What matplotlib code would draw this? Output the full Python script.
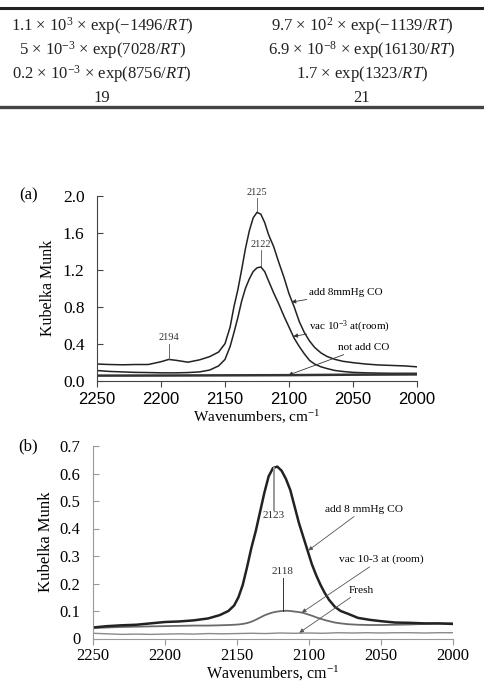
import matplotlib
matplotlib.use("Agg")
import matplotlib.pyplot as plt
from matplotlib.lines import Line2D

plt.rcParams['font.family'] = ['Liberation Serif', 'DejaVu Serif']
plt.rcParams['mathtext.fontset'] = 'custom'
plt.rcParams['mathtext.rm'] = 'Liberation Serif'
plt.rcParams['mathtext.it'] = 'Liberation Serif:italic'

# --- table fragment at the top of the page ---
table_left = [r'1.1 $\times$ 10$^{3}$ $\times$ exp($-$1496/$RT$)',
              r'5 $\times$ 10$^{-3}$ $\times$ exp(7028/$RT$)',
              r'0.2 $\times$ 10$^{-3}$ $\times$ exp(8756/$RT$)',
              '19']
table_right = [r'9.7 $\times$ 10$^{2}$ $\times$ exp($-$1139/$RT$)',
               r'6.9 $\times$ 10$^{-8}$ $\times$ exp(16130/$RT$)',
               r'1.7 $\times$ exp(1323/$RT$)',
               '21']

# --- panel (a) ---
wn_a = [2250, 2240, 2230, 2220, 2210, 2200, 2194, 2188, 2179, 2170, 2162, 2155,
        2150, 2146, 2143, 2140, 2137, 2134, 2131, 2128, 2125, 2122, 2119, 2116,
        2112, 2108, 2104, 2100, 2096, 2092, 2088, 2084, 2080, 2075, 2070, 2064,
        2058, 2050, 2040, 2030, 2020, 2010, 2000]
co_8mm_a = [0.18, 0.175, 0.172, 0.175, 0.175, 0.205, 0.23, 0.22, 0.20, 0.225, 0.26, 0.31,
            0.40, 0.58, 0.80, 0.98, 1.20, 1.43, 1.62, 1.76, 1.82, 1.80, 1.71, 1.58,
            1.45, 1.28, 1.12, 0.94, 0.80, 0.64, 0.52, 0.43, 0.36, 0.30, 0.26, 0.23,
            0.21, 0.195, 0.18, 0.17, 0.165, 0.16, 0.15]
vac_a = [0.11, 0.10, 0.095, 0.09, 0.088, 0.085, 0.085, 0.085, 0.088, 0.095, 0.115, 0.16,
         0.23, 0.37, 0.52, 0.68, 0.86, 1.00, 1.10, 1.18, 1.22, 1.23, 1.18, 1.08,
         0.95, 0.83, 0.70, 0.58, 0.46, 0.37, 0.29, 0.22, 0.18, 0.15, 0.13, 0.11,
         0.10, 0.09, 0.085, 0.082, 0.08, 0.08, 0.08]
wn_noco = [2250, 2200, 2150, 2100, 2050, 2000]
noco_a = [0.055, 0.056, 0.058, 0.060, 0.065, 0.068]

# --- panel (b) ---
wn_b = [2250, 2240, 2230, 2220, 2210, 2200, 2190, 2180, 2170, 2162, 2156, 2152,
        2149, 2146, 2143, 2140, 2137, 2134, 2131, 2128, 2125, 2122, 2119, 2116,
        2113, 2110, 2107, 2104, 2101, 2098, 2095, 2092, 2089, 2086, 2082, 2078,
        2073, 2066, 2058, 2050, 2040, 2030, 2020, 2010, 2000]
co_8mm_b = [0.040, 0.045, 0.048, 0.050, 0.055, 0.060, 0.062, 0.066, 0.073, 0.085, 0.10, 0.12,
            0.15, 0.195, 0.26, 0.33, 0.39, 0.46, 0.53, 0.59, 0.62, 0.625, 0.61, 0.58,
            0.54, 0.48, 0.42, 0.37, 0.32, 0.27, 0.23, 0.195, 0.165, 0.14, 0.115, 0.10,
            0.09, 0.075, 0.068, 0.063, 0.058, 0.057, 0.055, 0.055, 0.053]
vac_b = [0.038, 0.040, 0.042, 0.043, 0.044, 0.045, 0.046, 0.047, 0.047, 0.048, 0.049, 0.050,
         0.051, 0.053, 0.056, 0.061, 0.068, 0.076, 0.084, 0.090, 0.095, 0.098, 0.100, 0.101,
         0.100, 0.098, 0.096, 0.093, 0.088, 0.083, 0.077, 0.072, 0.067, 0.063, 0.058, 0.055,
         0.052, 0.050, 0.049, 0.049, 0.050, 0.051, 0.053, 0.054, 0.055]
wn_fresh = [2250, 2240, 2230, 2220, 2210, 2200, 2190, 2180, 2170, 2160, 2150, 2140, 2130,
            2120, 2110, 2100, 2090, 2080, 2070, 2060, 2050, 2040, 2030, 2020, 2010, 2000]
fresh_b = [0.019, 0.017, 0.015, 0.016, 0.015, 0.016, 0.017, 0.016, 0.018, 0.017, 0.018, 0.019, 0.018,
           0.020, 0.019, 0.020, 0.019, 0.021, 0.020, 0.021, 0.020, 0.021, 0.021, 0.020, 0.021, 0.021]

W, H = 484, 690
fig = plt.figure(figsize=(W / 100, H / 100), dpi=100)

def fx(px):
    return px / W

def fy(py):
    return 1 - py / H

# table rules and rows
fig.add_artist(Line2D([0, 1], [fy(8), fy(8)], transform=fig.transFigure, lw=2.2, color='#222222'))
fig.add_artist(Line2D([0, 1], [fy(107), fy(107)], transform=fig.transFigure, lw=2.4, color='#444444'))
for i, (lt, rt) in enumerate(zip(table_left, table_right)):
    y = fy(26.5 + i * 23.7)
    fig.text(fx(102), y, lt, ha='center', va='center', fontsize=12, color='#222222')
    fig.text(fx(362), y, rt, ha='center', va='center', fontsize=12, color='#222222')

arrow = dict(arrowstyle='-|>', mutation_scale=6, lw=0.6, color='#333333', shrinkA=0, shrinkB=0)

# ---------- panel (a) ----------
ax1 = fig.add_axes([fx(97), fy(380.7), fx(320), 185 / H])
ax1.plot(wn_a, co_8mm_a, color='#222222', lw=1.1)
ax1.plot(wn_a, vac_a, color='#222222', lw=1.1)
ax1.plot(wn_noco, noco_a, color='#333333', lw=1.8)
ax1.set_xlim(2250, 2000)
ax1.set_ylim(0, 2.0)
ax1.set_xticks([2250, 2200, 2150, 2100, 2050, 2000])
ax1.set_xticklabels(['2250', '2200', '2150', '2100', '2050', '2000'],
                    family='Liberation Sans', fontsize=12)
ax1.set_yticks([0, 0.4, 0.8, 1.2, 1.6, 2.0])
ax1.set_yticklabels(['0.0', '0.4', '0.8', '1.2', '1.6', '2.0'], fontsize=12.5)
ax1.tick_params(axis='x', direction='out', length=4, color='#444444', pad=4)
ax1.tick_params(axis='y', direction='in', length=4, color='#444444', pad=9)
for s in ['top', 'right']:
    ax1.spines[s].set_visible(False)
for s in ['left', 'bottom']:
    ax1.spines[s].set_color('#444444')
ax1.set_ylabel('Kubelka Munk', fontsize=11.5, labelpad=5)
ax1.set_xlabel('Wavenumbers, cm$^{-1}$', fontsize=11, labelpad=1)
ax1.text(2311, 2.0, '(a)', fontsize=12, ha='left', va='center', clip_on=False)

# peak labels
ax1.plot([2125, 2125], [1.83, 1.97], color='#555555', lw=0.6, clip_on=False)
ax1.text(2125, 2.03, '2125', fontsize=7.5, ha='center', va='center', color='#333333')
ax1.plot([2122, 2122], [1.24, 1.41], color='#555555', lw=0.6)
ax1.text(2122, 1.47, '2122', fontsize=7.5, ha='center', va='center', color='#333333')
ax1.plot([2194, 2194], [0.24, 0.40], color='#555555', lw=0.6)
ax1.text(2194, 0.47, '2194', fontsize=7.5, ha='center', va='center', color='#333333')

ax1.annotate('add 8mmHg CO', xy=(2098, 0.85), xytext=(2084, 0.95), fontsize=8,
             va='center', ha='left', arrowprops=arrow)
ax1.annotate('vac 10$^{-3}$ at(room)', xy=(2096.6, 0.48), xytext=(2084, 0.58), fontsize=8,
             va='center', ha='left', arrowprops=arrow)
ax1.annotate('not add CO', xy=(2100.5, 0.06), xytext=(2062, 0.36), fontsize=8,
             va='center', ha='left', arrowprops=arrow)

# ---------- panel (b) ----------
ax2 = fig.add_axes([fx(93), fy(638.5), fx(360), 192.5 / H])
ax2.plot(wn_fresh, fresh_b, color='#8a8a8a', lw=1.0)
ax2.plot(wn_b, vac_b, color='#6a6a6a', lw=1.3)
ax2.plot(wn_b, co_8mm_b, color='#222222', lw=1.8)
ax2.set_xlim(2250, 2000)
ax2.set_ylim(0, 0.7)
ax2.set_xticks([2250, 2200, 2150, 2100, 2050, 2000])
ax2.set_xticklabels(['2250', '2200', '2150', '2100', '2050', '2000'], fontsize=12)
ax2.set_yticks([0, 0.1, 0.2, 0.3, 0.4, 0.5, 0.6, 0.7])
ax2.set_yticklabels(['0', '0.1', '0.2', '0.3', '0.4', '0.5', '0.6', '0.7'], fontsize=12)
ax2.tick_params(axis='x', direction='out', length=4, color='#999999', pad=3)
ax2.tick_params(axis='y', direction='in', length=4, color='#999999', pad=9)
for s in ['top', 'right']:
    ax2.spines[s].set_visible(False)
for s in ['left', 'bottom']:
    ax2.spines[s].set_color('#999999')
ax2.set_ylabel('Kubelka Munk', fontsize=12, labelpad=4)
ax2.set_xlabel('Wavenumbers, cm$^{-1}$', fontsize=11.5, labelpad=0)
ax2.text(2302, 0.7, '(b)', fontsize=12, ha='left', va='center', clip_on=False)

ax2.plot([2124.3, 2124.3], [0.467, 0.62], color='#999999', lw=1.4)
ax2.text(2124.3, 0.447, '2123', fontsize=8, ha='center', va='center', color='#333333')
ax2.plot([2118.3, 2118.3], [0.101, 0.219], color='#333333', lw=0.7)
ax2.text(2118.3, 0.245, '2118', fontsize=8, ha='center', va='center', color='#333333')

arrow_b = dict(arrow, color='#555555')
ax2.annotate('add 8 mmHg CO', xy=(2100.5, 0.32), xytext=(2089, 0.47), fontsize=8.2,
             va='center', ha='left', arrowprops=arrow_b)
ax2.annotate('vac 10-3 at (room)', xy=(2105, 0.094), xytext=(2079.5, 0.288), fontsize=8.2,
             va='center', ha='left', arrowprops=arrow_b)
ax2.annotate('Fresh', xy=(2106.7, 0.021), xytext=(2072.5, 0.176), fontsize=8.2,
             va='center', ha='left', arrowprops=arrow_b)

fig.savefig('out.png', dpi=100)
